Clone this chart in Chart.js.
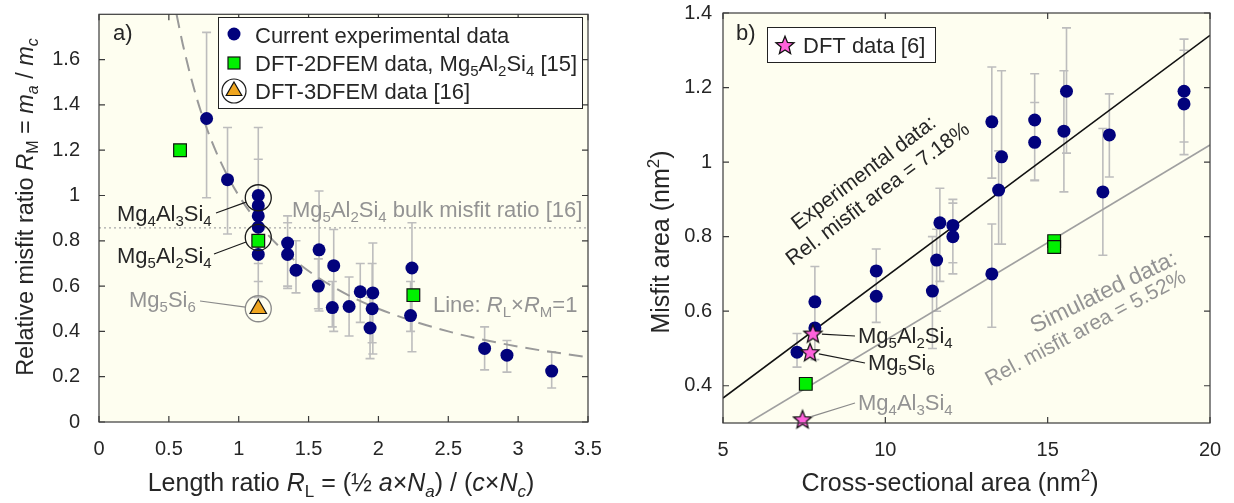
<!DOCTYPE html>
<html>
<head>
<meta charset="utf-8">
<script src="https://cdn.jsdelivr.net/npm/chart.js@4.4.1/dist/chart.umd.min.js"></script>
<style>
    body { margin: 0; background: #fff; }
    #wrap { position: relative; width: 1234px; height: 503px; overflow: hidden; }
    canvas { position: absolute; top: 0; }
    #chartA { left: 0; }
    #chartB { left: 620px; }
</style>
</head>
<body>
<div id="wrap">
    <canvas id="chartA" width="620" height="503"></canvas>
    <canvas id="chartB" width="602" height="503"></canvas>
</div>
<script>
// ---- panel a) length ratio vs relative misfit ratio ----
const A_X_TICKS = [0, 0.5, 1, 1.5, 2, 2.5, 3, 3.5];
const A_Y_TICKS = [0, 0.2, 0.4, 0.6, 0.8, 1, 1.2, 1.4, 1.6];

const A_EXP_X  = [0.77, 0.92, 1.14, 1.14, 1.14, 1.14, 1.14, 1.14, 1.35, 1.35, 1.41, 1.575, 1.57, 1.68, 1.67, 1.79, 1.87, 1.96, 1.955, 1.94, 2.24, 2.23, 2.76, 2.92, 3.24];
const A_EXP_Y  = [1.34, 1.07, 1.00, 0.955, 0.91, 0.86, 0.80, 0.74, 0.79, 0.74, 0.67, 0.76, 0.60, 0.69, 0.505, 0.51, 0.575, 0.57, 0.50, 0.415, 0.68, 0.47, 0.325, 0.295, 0.225];
const A_EXP_LO = [0.99, 0.83, 0.80, 0.75, 0.80, 0.70, 0.62, 0.55, 0.60, 0.59, 0.57, 0.49, 0.50, 0.40, 0.42, 0.38, 0.44, 0.30, 0.35, 0.28, 0.31, 0.40, 0.23, 0.22, 0.15];
const A_EXP_HI = [1.72, 1.30, 1.30, 1.16, 1.02, 1.00, 0.98, 0.93, 0.91, 0.88, 0.80, 1.02, 0.72, 0.85, 0.62, 0.64, 0.70, 0.79, 0.70, 0.55, 0.88, 0.62, 0.42, 0.36, 0.31];

const A_2DFEM_X = [0.58, 1.14, 2.25];
const A_2DFEM_Y = [1.20, 0.80, 0.56];
const A_3DFEM_X = [1.14];
const A_3DFEM_Y = [0.50];

// circled compositions: Mg4Al3Si4, Mg5Al2Si4 (black), Mg5Si6 (grey)
const A_RING_X = [1.14, 1.14];
const A_RING_Y = [0.99, 0.815];
const A_RING_GREY_X = [1.14];
const A_RING_GREY_Y = [0.50];

const A_BULK_X = [0, 3.5];
const A_BULK_Y = [0.857, 0.857];

// R_L x R_M = 1
const A_CURVE_X = [0.555, 0.6, 0.7, 0.8, 0.9, 1.0, 1.2, 1.4, 1.7, 2.0, 2.5, 3.0, 3.5];
const A_CURVE_Y = [1.80, 1.667, 1.429, 1.25, 1.111, 1.0, 0.833, 0.714, 0.588, 0.5, 0.4, 0.333, 0.286];

// ---- panel b) cross-sectional area vs misfit area ----
const B_X_TICKS = [5, 10, 15, 20];
const B_Y_TICKS = [0.4, 0.6, 0.8, 1, 1.2, 1.4];

const B_EXP_X  = [7.28, 7.83, 7.83, 9.72, 9.72, 11.45, 11.58, 11.68, 12.08, 12.08, 13.28, 13.28, 13.58, 13.49, 14.6, 14.6, 15.58, 15.5, 16.9, 16.7, 19.2, 19.2];
const B_EXP_Y  = [0.49, 0.625, 0.555, 0.708, 0.64, 0.654, 0.737, 0.837, 0.83, 0.80, 1.108, 0.70, 1.014, 0.925, 1.113, 1.053, 1.19, 1.083, 1.073, 0.92, 1.19, 1.156];
const B_EXP_LO = [0.45, 0.47, 0.47, 0.57, 0.57, 0.50, 0.60, 0.68, 0.73, 0.70, 0.957, 0.557, 0.78, 0.78, 0.952, 0.95, 1.024, 0.92, 0.96, 0.75, 1.054, 1.02];
const B_EXP_HI = [0.54, 0.72, 0.62, 0.767, 0.72, 0.80, 0.82, 0.93, 0.90, 0.89, 1.255, 0.834, 1.245, 1.03, 1.237, 1.16, 1.36, 1.245, 1.183, 1.09, 1.33, 1.30];

const B_2DFEM_X = [7.55, 15.2, 15.2];
const B_2DFEM_Y = [0.405, 0.788, 0.772];
// Mg5Al2Si4, Mg5Si6, Mg4Al3Si4
const B_DFT_X = [7.77, 7.68, 7.45];
const B_DFT_Y = [0.54, 0.49, 0.31];

const B_FIT_EXP_X = [5, 20];
const B_FIT_EXP_Y = [0.367, 1.34];
const B_FIT_SIM_X = [5.77, 20];
const B_FIT_SIM_Y = [0.30, 1.046];

// ---- styling ----
const FONT = '"Liberation Sans", Arial, Helvetica, sans-serif';
const INK = "#262626";
const GREY_TEXT = "#939393";
const PLOT_BG = "#fefef0";
const NAVY = "#02027c";
const GREEN = "#00f000";
const ORANGE = "#efa51f";
const PINK = "#ff62dc";
const TICK_LEN = 6;
const LABEL_SIZE = 22;
const TITLE_SIZE = 25;

const zip = (xs, ys) => xs.map((x, i) => ({ x, y: ys[i] }));
const chem = s => s.split(/(\d+)/).filter(Boolean).map(p => (/\d/.test(p) ? [p, "b"] : [p, ""]));

function partFont(style, size) {
    const small = style.includes("b") || style.includes("p");
    return `${style.includes("i") ? "italic " : ""}${small ? Math.round(size * 0.68) : size}px ${FONT}`;
}

// draws text made of normal / italic / subscript / superscript parts
function drawRich(ctx, parts, x, y, opt = {}) {
    const size = opt.size || LABEL_SIZE;
    ctx.save();
    ctx.translate(x, y);
    if (opt.angle) ctx.rotate(opt.angle * Math.PI / 180);

    let width = 0;
    parts.forEach(([t, st]) => {
        ctx.font = partFont(st, size);
        width += ctx.measureText(t).width;
    });

    let cx = opt.align === "center" ? -width / 2 : opt.align === "right" ? -width : 0;
    const base = opt.middle ? size * 0.36 : 0;
    ctx.fillStyle = opt.color || INK;
    ctx.textAlign = "left";
    ctx.textBaseline = "alphabetic";
    parts.forEach(([t, st]) => {
        ctx.font = partFont(st, size);
        const dy = st.includes("b") ? size * 0.22 : st.includes("p") ? -size * 0.42 : 0;
        ctx.fillText(t, cx, base + dy);
        cx += ctx.measureText(t).width;
    });
    ctx.restore();
}

function starPath(ctx, cx, cy, outer, inner) {
    ctx.beginPath();
    for (let i = 0; i < 10; i += 1) {
        const r = i % 2 ? inner : outer;
        const a = -Math.PI / 2 + i * Math.PI / 5;
        const px = cx + r * Math.cos(a);
        const py = cy + r * Math.sin(a);
        if (i === 0) ctx.moveTo(px, py); else ctx.lineTo(px, py);
    }
    ctx.closePath();
}

function makeStarImage() {
    const c = document.createElement("canvas");
    c.width = 22;
    c.height = 22;
    const g = c.getContext("2d");
    starPath(g, 11, 11.8, 9.5, 4.2);
    g.fillStyle = PINK;
    g.fill();
    g.strokeStyle = "#111";
    g.lineWidth = 1.3;
    g.stroke();
    return c;
}
const STAR = makeStarImage();

function line(ctx, x1, y1, x2, y2, color, width = 1.2) {
    ctx.save();
    ctx.strokeStyle = color;
    ctx.lineWidth = width;
    ctx.beginPath();
    ctx.moveTo(x1, y1);
    ctx.lineTo(x2, y2);
    ctx.stroke();
    ctx.restore();
}

// leader line from a text end to the edge of a marker
function leader(ctx, px, py, tx, ty, gap, color) {
    const d = Math.hypot(tx - px, ty - py) || 1;
    line(ctx, px + (tx - px) / d * gap, py + (ty - py) / d * gap, tx, ty, color);
}

function linearAxis(min, max, ticks, fitSize, isX, pad) {
    return {
        type: "linear",
        min,
        max,
        afterBuildTicks: scale => {
            scale.ticks = ticks.map(value => ({ value }));
        },
        afterFit: scale => {
            if (isX) scale.height = fitSize; else scale.width = fitSize;
            scale.paddingLeft = 0;
            scale.paddingRight = 0;
            scale.paddingTop = 0;
            scale.paddingBottom = 0;
        },
        grid: { display: false, drawTicks: false },
        border: { display: false },
        ticks: {
            color: INK,
            font: { family: FONT, size: 20 },
            padding: pad,
            autoSkip: false,
            maxRotation: 0,
            callback: value => String(value)
        }
    };
}

// yellow plot area, box frame and inward ticks on all four sides
const framePlugin = {
    id: "matlabFrame",
    beforeDatasetsDraw(chart) {
        const { ctx, chartArea: a } = chart;
        ctx.save();
        ctx.fillStyle = PLOT_BG;
        ctx.fillRect(a.left, a.top, a.right - a.left, a.bottom - a.top);
        ctx.restore();
    },
    afterDatasetsDraw(chart) {
        const { ctx, chartArea: a, scales } = chart;
        ctx.save();
        ctx.strokeStyle = "#3a3a3a";
        ctx.lineWidth = 1.2;
        ctx.strokeRect(a.left, a.top, a.right - a.left, a.bottom - a.top);
        ctx.beginPath();
        scales.x.ticks.forEach(t => {
            const px = scales.x.getPixelForValue(t.value);
            ctx.moveTo(px, a.bottom);
            ctx.lineTo(px, a.bottom - TICK_LEN);
            ctx.moveTo(px, a.top);
            ctx.lineTo(px, a.top + TICK_LEN);
        });
        scales.y.ticks.forEach(t => {
            const py = scales.y.getPixelForValue(t.value);
            ctx.moveTo(a.left, py);
            ctx.lineTo(a.left + TICK_LEN, py);
            ctx.moveTo(a.right, py);
            ctx.lineTo(a.right - TICK_LEN, py);
        });
        ctx.stroke();
        ctx.restore();
    }
};

function errorBarPlugin(xs, lo, hi) {
    return {
        id: "errorBars",
        beforeDatasetsDraw(chart) {
            const { ctx, scales } = chart;
            ctx.save();
            ctx.strokeStyle = "#bdbdbd";
            ctx.lineWidth = 1.6;
            ctx.beginPath();
            xs.forEach((x, i) => {
                const px = scales.x.getPixelForValue(x);
                const y1 = scales.y.getPixelForValue(lo[i]);
                const y2 = scales.y.getPixelForValue(hi[i]);
                ctx.moveTo(px, y1);
                ctx.lineTo(px, y2);
                ctx.moveTo(px - 4.5, y1);
                ctx.lineTo(px + 4.5, y1);
                ctx.moveTo(px - 4.5, y2);
                ctx.lineTo(px + 4.5, y2);
            });
            ctx.stroke();
            ctx.restore();
        }
    };
}

function overlayPlugin(draw) {
    return { id: "overlay", afterDraw: chart => draw(chart) };
}

function markerDots(data, style, radius, fill, border, order) {
    return {
        data,
        pointStyle: style,
        pointRadius: radius,
        backgroundColor: fill,
        borderColor: border,
        borderWidth: border === fill ? 0 : 1.2,
        order,
        clip: false
    };
}

function drawPanelA(chart) {
    const { ctx, scales } = chart;

    drawRich(ctx, [["a)", ""]], 113, 40);

    // legend
    ctx.save();
    ctx.fillStyle = "#fff";
    ctx.strokeStyle = "#222";
    ctx.lineWidth = 1;
    ctx.fillRect(218, 17, 364, 91);
    ctx.strokeRect(218.5, 17.5, 364, 91);

    ctx.fillStyle = NAVY;
    ctx.beginPath();
    ctx.arc(234, 34, 6.5, 0, Math.PI * 2);
    ctx.fill();

    ctx.fillStyle = GREEN;
    ctx.fillRect(228, 57, 12, 12);
    ctx.strokeStyle = "#111";
    ctx.lineWidth = 1.2;
    ctx.strokeRect(228, 57, 12, 12);

    ctx.beginPath();
    ctx.arc(234, 91, 12, 0, Math.PI * 2);
    ctx.strokeStyle = "#1a1a1a";
    ctx.stroke();
    ctx.beginPath();
    ctx.moveTo(234, 82);
    ctx.lineTo(241.8, 95.5);
    ctx.lineTo(226.2, 95.5);
    ctx.closePath();
    ctx.fillStyle = ORANGE;
    ctx.fill();
    ctx.strokeStyle = "#111";
    ctx.stroke();
    ctx.restore();

    drawRich(ctx, [["Current experimental data", ""]], 255, 35, { middle: true });
    drawRich(ctx, [["DFT-2DFEM data, ", ""], ...chem("Mg5Al2Si4"), [" [15]", ""]], 255, 63, { middle: true });
    drawRich(ctx, [["DFT-3DFEM data [16]", ""]], 255, 91, { middle: true });

    // composition labels with leader lines to the circled points
    const ringPx = (x, y) => [scales.x.getPixelForValue(x), scales.y.getPixelForValue(y)];
    const [r1x, r1y] = ringPx(A_RING_X[0], A_RING_Y[0]);
    const [r2x, r2y] = ringPx(A_RING_X[1], A_RING_Y[1]);
    const [r3x, r3y] = ringPx(A_RING_GREY_X[0], A_RING_GREY_Y[0]);

    drawRich(ctx, chem("Mg4Al3Si4"), 117, 221);
    leader(ctx, r1x, r1y, 216, 213, 13, "#1a1a1a");
    drawRich(ctx, chem("Mg5Al2Si4"), 117, 263);
    leader(ctx, r2x, r2y, 214, 254, 13, "#1a1a1a");
    drawRich(ctx, chem("Mg5Si6"), 129, 307, { color: GREY_TEXT });
    leader(ctx, r3x, r3y, 200, 301, 13, "#8a8a8a");

    drawRich(ctx, [...chem("Mg5Al2Si4"), [" bulk misfit ratio [16]", ""]], 292, 217, { color: GREY_TEXT });
    drawRich(ctx, [["Line: ", ""], ["R", "i"], ["L", "b"], ["\u00d7", ""], ["R", "i"], ["M", "b"], ["=1", ""]],
        433, 312, { color: GREY_TEXT });

    // axis titles
    drawRich(ctx, [["Length ratio ", ""], ["R", "i"], ["L", "b"], [" = (\u00bd ", ""], ["a", "i"], ["\u00d7", ""],
        ["N", "i"], ["a", "ib"], [") / (", ""], ["c", "i"], ["\u00d7", ""], ["N", "i"], ["c", "ib"], [")", ""]],
        341, 491, { align: "center", size: TITLE_SIZE });
    drawRich(ctx, [["Relative misfit ratio ", ""], ["R", "i"], ["M", "b"], [" = ", ""], ["m", "i"], ["a", "ib"],
        [" / ", ""], ["m", "i"], ["c", "ib"]],
        33, 207, { align: "center", angle: -90, size: 23.5 });
}

function drawPanelB(chart) {
    const { ctx, scales } = chart;

    drawRich(ctx, [["b)", ""]], 116, 40);

    // legend
    ctx.save();
    ctx.fillStyle = "#fff";
    ctx.strokeStyle = "#222";
    ctx.lineWidth = 1;
    ctx.fillRect(147, 27, 168, 35);
    ctx.strokeRect(147.5, 27.5, 168, 35);
    ctx.drawImage(STAR, 165 - 11, 45 - 11);
    ctx.restore();
    drawRich(ctx, [["DFT data [6]", ""]], 183, 45, { middle: true });

    const starPx = i => [scales.x.getPixelForValue(B_DFT_X[i]), scales.y.getPixelForValue(B_DFT_Y[i])];
    const [s1x, s1y] = starPx(0);
    const [s2x, s2y] = starPx(1);
    const [s3x, s3y] = starPx(2);

    drawRich(ctx, chem("Mg5Al2Si4"), 238, 343);
    leader(ctx, s1x, s1y, 235, 336, 9, "#1a1a1a");
    drawRich(ctx, chem("Mg5Si6"), 248, 370);
    leader(ctx, s2x, s2y, 245, 363, 9, "#1a1a1a");
    drawRich(ctx, chem("Mg4Al3Si4"), 238, 410, { color: GREY_TEXT });
    leader(ctx, s3x, s3y, 235, 403, 9, "#8a8a8a");

    // fit line captions
    drawRich(ctx, [["Experimental data:", ""]], 243, 172, { align: "center", angle: -37, middle: true, size: 21 });
    drawRich(ctx, [["Rel. misfit area = 7.18%", ""]], 257, 193, { align: "center", angle: -37, middle: true, size: 21 });
    drawRich(ctx, [["Simulated data:", ""]], 483, 291, { align: "center", angle: -26, middle: true, size: 23, color: GREY_TEXT });
    drawRich(ctx, [["Rel. misfit area = 5.52%", ""]], 465, 327, { align: "center", angle: -28, middle: true, size: 21, color: GREY_TEXT });

    // axis titles
    drawRich(ctx, [["Cross-sectional area (nm", ""], ["2", "p"], [")", ""]], 330, 491, { align: "center", size: TITLE_SIZE });
    drawRich(ctx, [["Misfit area (nm", ""], ["2", "p"], [")", ""]], 49, 242, { align: "center", angle: -90, size: TITLE_SIZE });
}

const baseOptions = (padRight, xAxis, yAxis) => ({
    responsive: false,
    animation: false,
    events: [],
    layout: { padding: { top: 13, right: padRight, left: 0, bottom: 0 } },
    scales: { x: xAxis, y: yAxis },
    plugins: { legend: { display: false }, tooltip: { enabled: false } }
});

new Chart(document.getElementById("chartA"), {
    type: "scatter",
    data: {
        datasets: [
            { ...markerDots(zip(A_RING_X, A_RING_Y), "circle", 13, "rgba(0,0,0,0)", "#1a1a1a", 0), borderWidth: 1.3 },
            { ...markerDots(zip(A_RING_GREY_X, A_RING_GREY_Y), "circle", 13, "rgba(0,0,0,0)", "#8a8a8a", 0), borderWidth: 1.3 },
            markerDots(zip(A_3DFEM_X, A_3DFEM_Y), "triangle", 9.5, ORANGE, "#111", 1),
            markerDots(zip(A_2DFEM_X, A_2DFEM_Y), "rect", 9, GREEN, "#111", 1),
            markerDots(zip(A_EXP_X, A_EXP_Y), "circle", 6.5, NAVY, NAVY, 2),
            {
                data: zip(A_BULK_X, A_BULK_Y),
                showLine: true,
                pointRadius: 0,
                borderColor: "#a8a8a8",
                borderWidth: 1.2,
                borderDash: [2, 3],
                order: 5
            },
            {
                data: zip(A_CURVE_X, A_CURVE_Y),
                showLine: true,
                pointRadius: 0,
                borderColor: "#9a9a9a",
                borderWidth: 2,
                borderDash: [14, 8],
                cubicInterpolationMode: "monotone",
                order: 5
            }
        ]
    },
    options: baseOptions(32, linearAxis(0, 3.5, A_X_TICKS, 81, true, 15), linearAxis(0, 1.8, A_Y_TICKS, 99, false, 19)),
    plugins: [framePlugin, errorBarPlugin(A_EXP_X, A_EXP_LO, A_EXP_HI), overlayPlugin(drawPanelA)]
});

new Chart(document.getElementById("chartB"), {
    type: "scatter",
    data: {
        datasets: [
            markerDots(zip(B_DFT_X, B_DFT_Y), STAR, 9, PINK, "#111", 0),
            markerDots(zip(B_2DFEM_X, B_2DFEM_Y), "rect", 9, GREEN, "#111", 1),
            markerDots(zip(B_EXP_X, B_EXP_Y), "circle", 6.5, NAVY, NAVY, 2),
            {
                data: zip(B_FIT_EXP_X, B_FIT_EXP_Y),
                showLine: true,
                pointRadius: 0,
                borderColor: "#111",
                borderWidth: 1.6,
                order: 5
            },
            {
                data: zip(B_FIT_SIM_X, B_FIT_SIM_Y),
                showLine: true,
                pointRadius: 0,
                borderColor: "#a0a0a0",
                borderWidth: 1.6,
                order: 5
            }
        ]
    },
    options: baseOptions(12, linearAxis(5, 20, B_X_TICKS, 80, true, 15), linearAxis(0.3, 1.4, B_Y_TICKS, 103, false, 11)),
    plugins: [framePlugin, errorBarPlugin(B_EXP_X, B_EXP_LO, B_EXP_HI), overlayPlugin(drawPanelB)]
});
</script>
</body>
</html>
